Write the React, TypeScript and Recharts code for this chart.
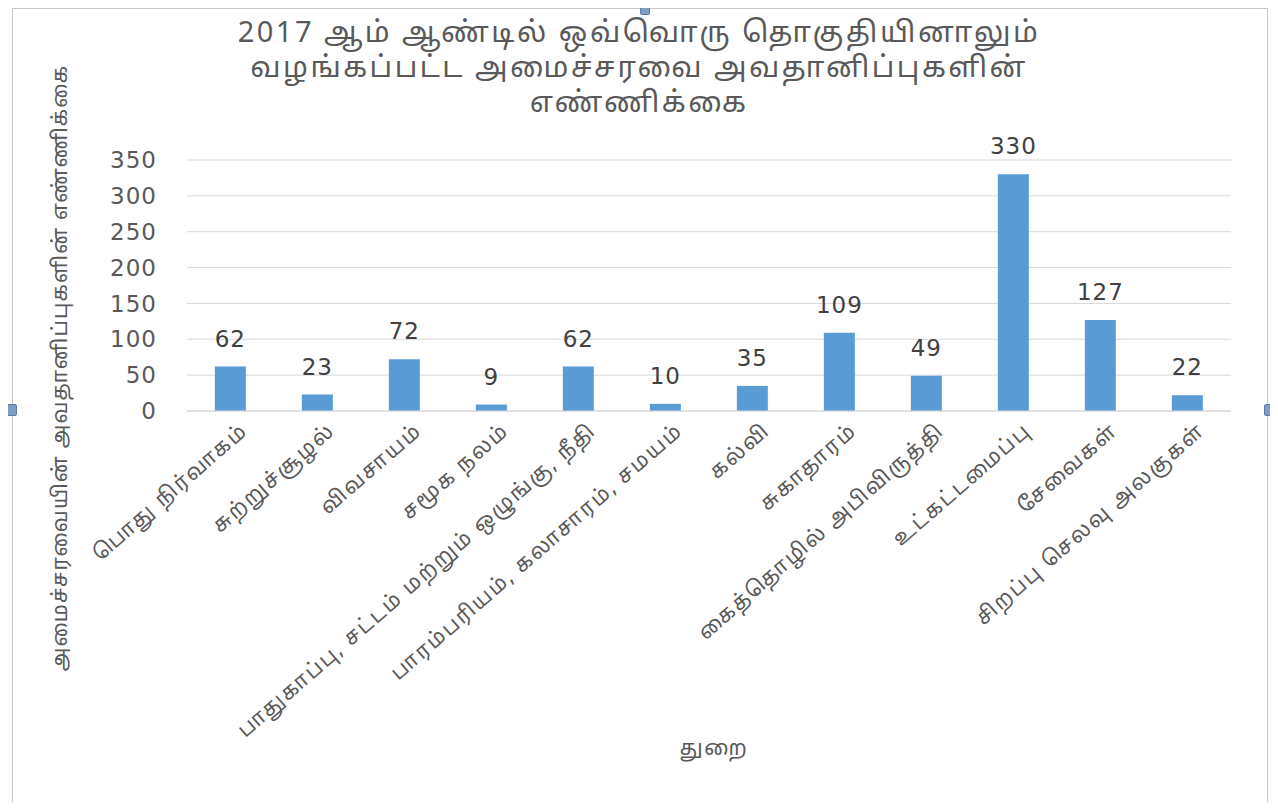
import React from "react";
import { BarChart, Bar, XAxis, YAxis, CartesianGrid, LabelList } from "recharts";

const categories = [
  "பொது நிர்வாகம்",
  "சுற்றுச்சூழல்",
  "விவசாயம்",
  "சமூக நலம்",
  "பாதுகாப்பு, சட்டம் மற்றும் ஒழுங்கு, நீதி",
  "பாரம்பரியம், கலாசாரம், சமயம்",
  "கல்வி",
  "சுகாதாரம்",
  "கைத்தொழில்  அபிவிருத்தி",
  "உட்கட்டமைப்பு",
  "சேவைகள்",
  "சிறப்பு செலவு அலகுகள்",
];
const observations = [62, 23, 72, 9, 62, 10, 35, 109, 49, 330, 127, 22];
const yTicks = [0, 50, 100, 150, 200, 250, 300, 350];

const titleLines = [
  "2017 ஆம் ஆண்டில் ஒவ்வொரு தொகுதியினாலும்",
  "வழங்கப்பட்ட அமைச்சரவை அவதானிப்புகளின்",
  "எண்ணிக்கை",
];
const yTitle = "அமைச்சரவையின் அவதானிப்புகளின் எண்ணிக்கை";
const xTitle = "துறை";

const data = categories.map((c, i) => ({ name: c, value: observations[i] }));

const font = "'Noto Sans Tamil', 'Latha', 'Noto Sans', sans-serif";
const numFont = "'DejaVu Sans', 'Noto Sans', sans-serif";

function AngledTick(props: any) {
  const { x, y, payload } = props;
  return (
    <g transform={`translate(${x + 12},${y + 6})`}>
      <text
        transform="rotate(-41)"
        textAnchor="end"
        dy={10}
        fontSize={21}
        letterSpacing={2}
        fill="#595959"
        fontFamily={font}
      >
        {payload.value}
      </text>
    </g>
  );
}

const handle = (left: number, top: number) => (
  <div
    style={{
      position: "absolute",
      left,
      top,
      width: 8,
      height: 10,
      background: "#7f9cc4",
      border: "1px solid #5b7aa8",
      borderRadius: 2,
    }}
  />
);

export default function App() {
  return (
    <div style={{ position: "relative", width: 1278, height: 810, margin: -8, background: "#fff", fontFamily: font }}>
      <div
        style={{
          position: "absolute",
          left: 12,
          top: 8,
          width: 1256,
          height: 800,
          border: "1px solid #c8c8c8",
          boxSizing: "border-box",
        }}
      />
      {handle(640, 3)}
      {handle(7, 404)}
      {handle(1264, 404)}
      {handle(640, 802)}
      <div
        style={{
          position: "absolute",
          left: 0,
          width: 1278,
          top: 18,
          textAlign: "center",
          fontSize: 29,
          lineHeight: "35px",
          letterSpacing: 2.5,
          color: "#595959",
        }}
      >
        {titleLines.map((l) => (
          <div key={l}>{l}</div>
        ))}
      </div>
      <div
        style={{
          position: "absolute",
          left: 62,
          top: 368,
          transform: "translate(-50%, -50%) rotate(-90deg)",
          whiteSpace: "nowrap",
          fontSize: 21,
          letterSpacing: 1.2,
          color: "#595959",
        }}
      >
        {yTitle}
      </div>
      <div
        style={{
          position: "absolute",
          left: 714,
          top: 750,
          transform: "translate(-50%, -50%)",
          fontSize: 21,
          letterSpacing: 1.5,
          color: "#595959",
        }}
      >
        {xTitle}
      </div>
      <div style={{ position: "absolute", left: 0, top: 0 }}>
        <BarChart
          width={1278}
          height={810}
          data={data}
          margin={{ top: 160, right: 47, left: 83, bottom: 59 }}
          barCategoryGap="32%"
        >
          <CartesianGrid vertical={false} stroke="#d9d9d9" />
          <XAxis
            dataKey="name"
            interval={0}
            height={340}
            tick={<AngledTick />}
            tickLine={false}
            axisLine={{ stroke: "#d9d9d9" }}
          />
          <YAxis
            width={104}
            domain={[0, 350]}
            ticks={yTicks}
            tickLine={false}
            axisLine={false}
            tickMargin={24}
            tick={{ fontSize: 23, fill: "#595959", fontFamily: numFont, letterSpacing: 1 }}
          />
          <Bar dataKey="value" fill="#5b9bd5" isAnimationActive={false}>
            <LabelList
              dataKey="value"
              position="top"
              offset={20}
              style={{ fontSize: 23, fill: "#404040", fontFamily: numFont, letterSpacing: 1 }}
            />
          </Bar>
        </BarChart>
      </div>
    </div>
  );
}
